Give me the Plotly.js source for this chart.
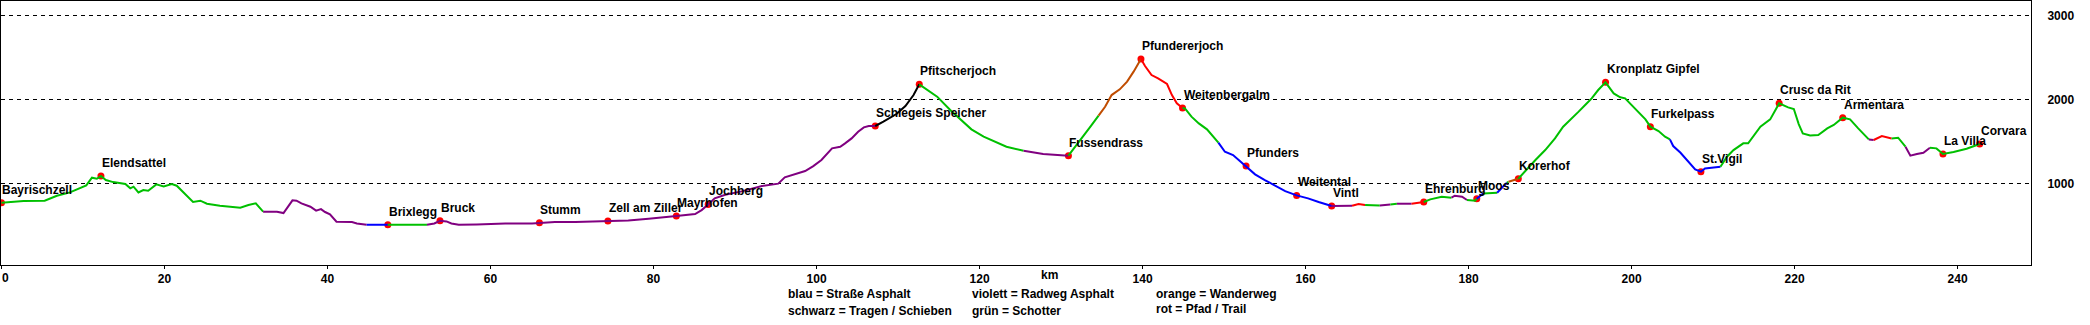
<!DOCTYPE html>
<html>
<head>
<meta charset="utf-8">
<script src="https://cdn.plot.ly/plotly-3.0.1.min.js"></script>
<style>html,body{margin:0;padding:0;background:#fff;}#chart{width:2090px;height:325px;}</style>
</head>
<body>
<div id="chart"></div>
<script>
// Profile points: distance (km), elevation (m), surface of the segment arriving at that point
// G = grün/Schotter, V = violett/Radweg Asphalt, B = blau/Straße Asphalt,
// S = schwarz/Tragen-Schieben, O = orange/Wanderweg, R = rot/Pfad-Trail
const km = [
  0, 2.7, 5.3, 6.8, 8.4, 9.6, 10.4, 11.1, 11.7, 12.2, 12.8, 13.7, 15.2, 15.8, 16.2, 16.8, 17.4, 18.0, 19.0, 19.9,
  20.9, 21.5, 23.5, 24.4, 25.2, 26.8, 29.3, 30.3, 31.2, 32.1, 33.8, 34.6, 35.7, 36.2, 36.8, 37.9, 38.6, 39.2, 39.7, 40.3,
  41.1, 43.0, 43.6, 44.8, 47.4, 52.2, 53.1, 53.8, 54.6, 55.2, 56.1, 58.3, 61.8, 65.1, 66.0, 67.9, 70.4, 72.8, 74.4, 76.9,
  79.4, 81.0, 82.8, 85.1, 85.9, 86.7, 87.5, 88.8, 90.8, 93.3, 95.3, 96.1, 97.0, 97.6, 98.6, 99.6, 100.6, 101.9, 102.9, 103.5,
  104.3, 105.1, 105.8, 106.4, 107.2, 108.2, 109.8, 110.9, 111.9, 112.6, 114.8, 116.4, 118.0, 119.0, 120.5, 121.7, 123.3, 125.4, 127.8, 130.9,
  132.3, 133.6, 134.6, 135.4, 136.2, 137.2, 138.1, 138.9, 139.8, 140.3, 141.1, 141.9, 143.0, 143.6, 144.2, 144.9, 145.2, 146.0, 146.9, 147.9,
  148.7, 149.3, 150.1, 151.1, 152.0, 152.7, 153.8, 155.0, 156.3, 157.5, 158.9, 160.3, 161.6, 163.2, 165.7, 166.5, 167.3, 169.1, 170.4, 171.2,
  173.0, 174.5, 175.3, 176.7, 177.9, 178.3, 179.2, 179.8, 180.8, 181.0, 181.8, 183.5, 184.7, 184.9, 186.1, 186.5, 188.2, 189.4, 190.6, 191.6,
  192.7, 193.5, 194.3, 195.1, 195.9, 196.8, 197.8, 198.6, 199.2, 200.0, 200.8, 201.7, 202.3, 203.3, 204.1, 204.7, 205.1, 206.0, 206.6, 207.2,
  207.8, 208.5, 209.0, 210.9, 211.7, 212.5, 213.7, 214.3, 215.0, 215.8, 217.0, 217.6, 218.1, 219.2, 219.9, 220.5, 221.0, 221.9, 222.9, 224.0,
  224.8, 225.9, 226.8, 227.8, 229.1, 229.7, 230.7, 231.9, 232.7, 233.6, 234.2, 235.0, 235.8, 236.6, 237.4, 238.2, 239.5, 241.1, 242.7
];
const elev = [
  771, 791, 795, 854, 894, 942, 978, 1069, 1057, 1089, 1041, 1017, 994, 942, 962, 894, 922, 914, 990, 966,
  994, 974, 779, 795, 759, 735, 711, 743, 763, 664, 664, 648, 799, 795, 763, 723, 676, 695, 660, 632,
  544, 540, 524, 508, 508, 508, 524, 556, 548, 524, 508, 512, 524, 524, 532, 540, 540, 548, 552, 560,
  580, 592, 612, 636, 683, 751, 823, 866, 906, 970, 998, 1073, 1101, 1113, 1149, 1208, 1280, 1419, 1439, 1479,
  1538, 1618, 1670, 1686, 1686, 1737, 1829, 1924, 2055, 2183, 2036, 1876, 1737, 1646, 1558, 1507, 1439, 1391, 1352, 1332,
  1519, 1678, 1809, 1916, 2055, 2123, 2215, 2334, 2485, 2401, 2294, 2254, 2187, 2055, 1956, 1900, 1896, 1797, 1717, 1646,
  1550, 1487, 1379, 1340, 1260, 1208, 1109, 1041, 974, 910, 858, 823, 779, 731, 735, 755, 743, 739, 751, 759,
  759, 779, 811, 842, 831, 854, 842, 803, 795, 819, 882, 890, 1010, 1021, 1057, 1101, 1280, 1399, 1538, 1678,
  1777, 1857, 1936, 2016, 2115, 2207, 2075, 2028, 2016, 1936, 1857, 1765, 1678, 1626, 1558, 1526, 1447, 1367, 1300, 1232,
  1169, 1141, 1180, 1200, 1320, 1399, 1479, 1479, 1566, 1678, 1765, 1876, 1956, 1908, 1888, 1709, 1598, 1574, 1578, 1658,
  1698, 1785, 1765, 1658, 1526, 1519, 1566, 1538, 1546, 1439, 1332, 1352, 1367, 1427, 1419, 1352, 1375, 1415, 1471
];
const surface = [
  'G','G','G','G','G','G','G','G','G','G','G','G','G','G','G','G','G','G','G','G',
  'G','G','G','G','G','G','G','G','G','G','V','V','V','V','V','V','V','V','V','V',
  'V','V','V','V','B','G','V','V','V','V','V','V','V','V','V','V','V','V','V','V',
  'V','V','V','V','V','V','V','V','V','V','V','V','V','V','V','V','V','V','V','V',
  'V','V','V','V','V','S','S','S','S','S','G','G','G','G','G','G','G','G','V','V',
  'G','G','G','O','O','O','O','O','O','R','R','R','R','R','R','R','G','G','G','G',
  'G','G','B','B','B','B','B','B','B','B','B','B','B','B','V','R','R','G','V','G',
  'V','R','G','G','G','V','V','V','G','G','B','G','B','G','O','G','G','G','G','G',
  'G','G','G','G','G','G','G','G','G','G','G','G','G','G','G','G','B','B','B','B',
  'B','B','B','B','G','G','G','G','G','G','G','G','G','G','G','G','G','G','G','G',
  'G','G','G','G','G','V','R','R','G','G','V','V','V','V','G','G','G','G','G'
];

// Waypoints
const wpName = ['Bayrischzell','Elendsattel','Brixlegg','Bruck','Stumm','Zell am Ziller','Mayrhofen','Jochberg',
  'Schlegeis Speicher','Pfitscherjoch','Fussendrass','Pfundererjoch','Weitenbergalm','Pfunders','Weitental','Vintl',
  'Ehrenburg','Moos','Korerhof','Kronplatz Gipfel','Furkelpass','St.Vigil','Crusc da Rit','Armentara','La Villa','Corvara'];
const wpKm = [0, 12.2, 47.4, 53.8, 66.0, 74.4, 82.8, 86.7,
  107.2, 112.6, 130.9, 139.8, 144.9, 152.7, 158.9, 163.2,
  174.5, 181.0, 186.1, 196.8, 202.3, 208.5, 218.1, 225.9, 238.2, 242.7];
const wpElev = [771, 1089, 508, 556, 532, 552, 612, 751,
  1686, 2183, 1332, 2485, 1900, 1208, 858, 731,
  779, 819, 1057, 2207, 1678, 1141, 1956, 1785, 1352, 1471];

const xTicks = [0, 20, 40, 60, 80, 100, 120, 140, 160, 180, 200, 220, 240];
const yTicks = [1000, 2000, 3000];

const legendLines = [
  ['blau = Straße Asphalt', 'schwarz = Tragen / Schieben'],
  ['violett = Radweg Asphalt', 'grün = Schotter'],
  ['orange = Wanderweg', 'rot = Pfad / Trail']
];

const colorOf = {G:'#00c000', V:'#800080', B:'#0000ff', S:'#000000', O:'#c04c00', R:'#ff0000'};
const FONT = 'Liberation Sans, Arial, sans-serif';
const txtFont = {family: FONT, size: 12, color: '#000', weight: 'bold'};

const traces = [];
traces.push({
  type: 'scatter', mode: 'markers', x: wpKm, y: wpElev,
  marker: {color: '#ff0000', size: 7, line: {width: 0}},
  hoverinfo: 'skip', showlegend: false
});
let i = 1;
while (i < km.length) {
  const s = surface[i];
  const xs = [km[i - 1]], ys = [elev[i - 1]];
  while (i < km.length && surface[i] === s) { xs.push(km[i]); ys.push(elev[i]); i++; }
  traces.push({type: 'scatter', mode: 'lines', x: xs, y: ys,
    line: {color: colorOf[s], width: 2}, hoverinfo: 'skip', showlegend: false});
}

const annotations = wpName.map((n, k) => ({
  x: wpKm[k], y: wpElev[k], xref: 'x', yref: 'y', text: n, showarrow: false,
  xanchor: 'left', yanchor: 'middle', yshift: 13, xshift: -1, font: txtFont
}));
// first x tick label drawn left-aligned so it stays inside the picture
annotations.push({x: 0, y: -0.049, xref: 'paper', yref: 'paper', text: String(xTicks[0]), showarrow: false,
  xanchor: 'left', yanchor: 'middle', xshift: -1, font: txtFont});
annotations.push({x: 0.5165, y: -0.036, xref: 'paper', yref: 'paper', text: 'km', showarrow: false,
  xanchor: 'center', yanchor: 'middle', font: txtFont});
const colX = [0.3867, 0.4773, 0.568];
const rowY = [[-0.1117, -0.1742], [-0.1117, -0.1742], [-0.1117, -0.1648]];
legendLines.forEach((col, c) => col.forEach((t, r) => annotations.push({
  x: colX[c], y: rowY[c][r], xref: 'paper', yref: 'paper', text: t, showarrow: false,
  xanchor: 'left', yanchor: 'middle', font: txtFont
})));

const layout = {
  width: 2090, height: 325,
  margin: {l: 1, r: 59, t: 1, b: 60, pad: 0},
  paper_bgcolor: '#ffffff', plot_bgcolor: '#ffffff',
  showlegend: false,
  font: {family: FONT, size: 12, color: '#000'},
  xaxis: {
    range: [-0.06, 249.0], tickvals: xTicks, ticktext: xTicks.map((v, k) => k === 0 ? '' : String(v)),
    showgrid: false, zeroline: false, showline: true, mirror: true, linecolor: '#000', linewidth: 1,
    ticks: 'outside', ticklen: 3, tickcolor: '#000', tickfont: txtFont, fixedrange: true
  },
  yaxis: {
    side: 'right', range: [28, 3177], tickvals: yTicks, ticktext: yTicks.map(String),
    showgrid: true, gridcolor: '#000', gridwidth: 1, griddash: '4px,4px',
    zeroline: false, showline: true, mirror: true, linecolor: '#000', linewidth: 1,
    ticks: '', ticklabelstandoff: 13, tickfont: txtFont, fixedrange: true
  },
  annotations: annotations
};

Plotly.newPlot('chart', traces, layout, {staticPlot: true, displayModeBar: false});
</script>
</body>
</html>
